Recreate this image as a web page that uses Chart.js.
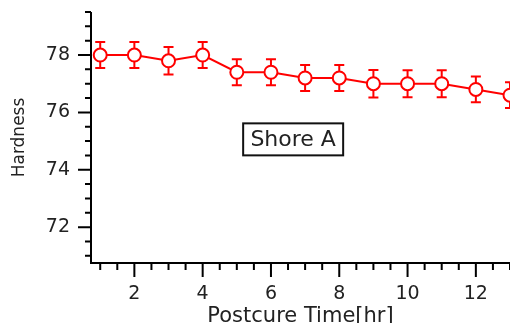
<!DOCTYPE html>
<html>
<head>
<meta charset="utf-8">
<script src="https://cdn.jsdelivr.net/npm/chart.js@4.4.0/dist/chart.umd.min.js"></script>
<style>
    html, body { margin: 0; padding: 0; background: #fff; }
    #wrap { width: 510px; height: 323px; }
</style>
</head>
<body>
<div id="wrap"><canvas id="grafik" width="510" height="323"></canvas></div>
<script>
// Data
const postcureTime = [1, 2, 3, 4, 5, 6, 7, 8, 9, 10, 11, 12, 13];
const hardness = [78.0, 78.0, 77.8, 78.0, 77.4, 77.4, 77.2, 77.2, 77.0, 77.0, 77.0, 76.8, 76.6];
const hardnessErr = [0.45, 0.45, 0.48, 0.45, 0.45, 0.45, 0.45, 0.45, 0.48, 0.47, 0.47, 0.45, 0.45];
const xTicks = [2, 4, 6, 8, 10, 12];
const yTicks = [72, 74, 76, 78];
const labelText = "Shore A";

const FONT = "'DejaVu Sans', sans-serif";
const RED = "#ff0000";

// Error bars drawn under the markers
const errorBars = {
    id: 'errorBars',
    beforeDatasetsDraw(chart) {
        const ctx = chart.ctx;
        const xs = chart.scales.x, ys = chart.scales.y;
        ctx.save();
        ctx.strokeStyle = RED;
        ctx.lineWidth = 2;
        for (let i = 0; i < postcureTime.length; i++) {
            const px = xs.getPixelForValue(postcureTime[i]);
            const top = ys.getPixelForValue(hardness[i] + hardnessErr[i]);
            const bot = ys.getPixelForValue(hardness[i] - hardnessErr[i]);
            ctx.beginPath();
            ctx.moveTo(px, top); ctx.lineTo(px, bot);
            ctx.moveTo(px - 5, top); ctx.lineTo(px + 5, top);
            ctx.moveTo(px - 5, bot); ctx.lineTo(px + 5, bot);
            ctx.stroke();
        }
        ctx.restore();
    }
};

// Axis lines with major and minor tick marks
const axisFrame = {
    id: 'axisFrame',
    afterDraw(chart) {
        const ctx = chart.ctx;
        const a = chart.chartArea;
        const xs = chart.scales.x, ys = chart.scales.y;
        ctx.save();
        ctx.strokeStyle = "#000";
        ctx.lineWidth = 2;
        ctx.beginPath();
        ctx.moveTo(a.left, a.top); ctx.lineTo(a.left, a.bottom + 1);
        ctx.moveTo(a.left - 1, a.bottom); ctx.lineTo(a.right, a.bottom);
        ctx.stroke();

        ctx.beginPath();
        for (let v = 71; v <= 79.5; v += 0.5) {
            const py = ys.getPixelForValue(v);
            const len = yTicks.includes(v) ? 13 : 6;
            ctx.moveTo(a.left, py); ctx.lineTo(a.left - len, py);
        }
        for (let v = 1; v <= 13; v += 0.5) {
            const px = xs.getPixelForValue(v);
            const len = xTicks.includes(v) ? 14 : 7;
            ctx.moveTo(px, a.bottom); ctx.lineTo(px, a.bottom + len);
        }
        ctx.stroke();

        // "Shore A" box
        const cx = xs.getPixelForValue(6.65);
        const cy = ys.getPixelForValue(75.06);
        ctx.font = "22px " + FONT;
        ctx.fillStyle = "#222";
        ctx.textAlign = "center";
        ctx.textBaseline = "middle";
        ctx.fillText(labelText, cx, cy + 1);
        ctx.lineWidth = 2;
        ctx.strokeStyle = "#111";
        ctx.strokeRect(cx - 50, cy - 16, 100, 32);
        ctx.restore();
    }
};

const chart = new Chart(document.getElementById('grafik').getContext('2d'), {
    type: 'line',
    data: {
        labels: postcureTime,
        datasets: [{
            data: postcureTime.map((t, i) => ({ x: t, y: hardness[i] })),
            borderColor: RED,
            borderWidth: 2,
            backgroundColor: '#fff',
            pointRadius: 6.5,
            pointBorderWidth: 2,
            pointBorderColor: RED,
            pointBackgroundColor: '#fff',
            tension: 0,
            clip: false
        }]
    },
    options: {
        responsive: false,
        animation: false,
        devicePixelRatio: 1,
        layout: { autoPadding: false, padding: { top: 12, right: 0, left: 0, bottom: 0 } },
        plugins: { legend: { display: false }, tooltip: { enabled: false } },
        scales: {
            x: {
                type: 'linear',
                min: 0.73,
                max: 13,
                afterBuildTicks: function(scale) { scale.ticks = xTicks.map(v => ({ value: v })); },
                afterFit: function(scale) {
                    scale.height = 60;
                    scale.paddingLeft = 0;
                    scale.paddingRight = 0;
                },
                grid: { display: false, drawTicks: false },
                border: { display: false },
                ticks: { color: '#222', font: { family: FONT, size: 19 }, padding: 20, maxRotation: 0 },
                title: { display: true, text: 'Postcure Time[hr]', color: '#222',
                         font: { family: FONT, size: 21 }, padding: { top: 0, bottom: -6 } }
            },
            y: {
                min: 70.75,
                max: 79.5,
                afterBuildTicks: function(scale) { scale.ticks = yTicks.map(v => ({ value: v })); },
                afterFit: function(scale) {
                    scale.width = 91;
                    scale.paddingTop = 0;
                    scale.paddingBottom = 0;
                },
                grid: { display: false, drawTicks: false },
                border: { display: false },
                ticks: { color: '#222', font: { family: FONT, size: 19 }, padding: 21 },
                title: { display: true, text: 'Hardness', color: '#222',
                         font: { family: FONT, size: 17 }, padding: { top: 9, bottom: 0 } }
            }
        }
    },
    plugins: [errorBars, axisFrame]
});
</script>
</body>
</html>
